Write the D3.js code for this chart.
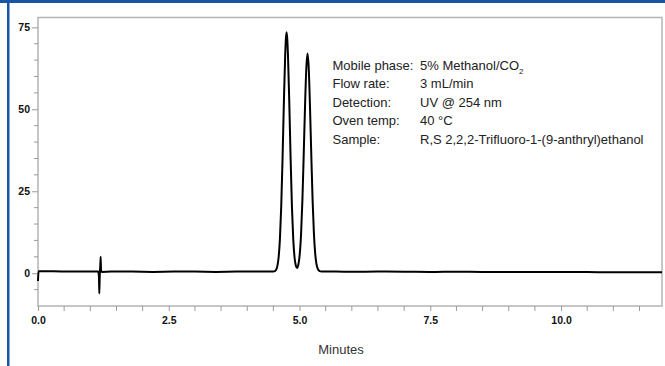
<!DOCTYPE html>
<html><head><meta charset="utf-8">
<script src="https://cdn.jsdelivr.net/npm/d3@7/dist/d3.min.js"></script>
<style>
html,body{margin:0;padding:0;background:#fff;}
svg{display:block;}
</style></head>
<body>
<script>
// ---- data ----
const traceTime = [0.0, 0.01, 0.3, 0.6, 0.9, 1.1, 1.15, 1.165, 1.172, 1.18, 1.19, 1.198, 1.205, 1.22, 1.4, 1.8, 2.2, 2.6, 3.0, 3.4, 3.8, 4.2, 4.45,
  4.5, 4.525, 4.55, 4.575, 4.6, 4.625, 4.65, 4.675, 4.7, 4.725, 4.74, 4.752, 4.765, 4.78, 4.805, 4.83, 4.855, 4.88, 4.905, 4.93, 4.955,
  4.98, 5.005, 5.03, 5.055, 5.08, 5.105, 5.13, 5.153, 5.176, 5.2, 5.225, 5.25, 5.275, 5.3, 5.325, 5.35, 5.375, 5.4, 5.45,
  5.7, 6.0, 6.5, 7.0, 7.5, 8.0, 8.5, 9.0, 9.5, 10.0, 10.5, 11.0, 11.5, 11.93];
const traceSignal = [-2.4, 0.6, 0.6, 0.5, 0.5, 0.5, 0.5, -1.0, -6.2, -1.0, 2.0, 5.0, 1.0, 0.4, 0.5, 0.5, 0.4, 0.5, 0.5, 0.4, 0.5, 0.5, 0.5,
  0.53, 0.64, 1.0, 2.1, 4.8, 10.4, 20.3, 34.7, 51.5, 66.1, 71.6, 73.5, 71.6, 66.1, 51.5, 34.7, 20.3, 10.4, 4.8, 2.3, 1.6,
  2.8, 5.9, 12.2, 22.3, 36.1, 50.8, 62.5, 67.0, 62.5, 50.8, 36.1, 22.3, 12.2, 5.9, 2.7, 1.3, 0.74, 0.56, 0.5,
  0.5, 0.45, 0.5, 0.45, 0.4, 0.45, 0.4, 0.4, 0.35, 0.4, 0.35, 0.3, 0.3, 0.3];
const xMajorTicks = [0, 2.5, 5, 7.5, 10];
const yMajorTicks = [0, 25, 50, 75];
const annotationLabels = ["Mobile phase:", "Flow rate:", "Detection:", "Oven temp:", "Sample:"];
const annotationValues = ["5% Methanol/CO", "3 mL/min", "UV @ 254 nm", "40 °C", "R,S 2,2,2-Trifluoro-1-(9-anthryl)ethanol"];
const xTitle = "Minutes";

// ---- layout ----
const W = 665, H = 366;
const plot = {left: 38, right: 662, top: 17.5, bottom: 306};
const svg = d3.select("body").append("svg").attr("width", W).attr("height", H);

const x = d3.scaleLinear().domain([0, 11.93]).range([plot.left, plot.right]);
const y = d3.scaleLinear().domain([-10, 78]).range([plot.bottom, plot.top]);

// blue border
svg.append("rect").attr("x", 0).attr("y", 0).attr("width", W).attr("height", 3).attr("fill", "#1a55a5");
svg.append("rect").attr("x", 7).attr("y", 0).attr("width", 2.5).attr("height", H).attr("fill", "#1a55a5");

// frame
svg.append("rect").attr("x", plot.left).attr("y", plot.top)
  .attr("width", plot.right - plot.left).attr("height", plot.bottom - plot.top)
  .attr("fill", "none").attr("stroke", "#b4b4b4").attr("stroke-width", 1.5);

const tickColor = "#9a9a9a";
const tickFont = "Liberation Sans, Arial, sans-serif";
// y minor ticks
const yMinor = d3.range(-5, 76, 5).filter(v => !yMajorTicks.includes(v));
svg.append("g").selectAll("line").data(yMinor).join("line")
  .attr("x1", plot.left - 4).attr("x2", plot.left).attr("y1", d => y(d)).attr("y2", d => y(d))
  .attr("stroke", tickColor).attr("stroke-width", 1);
// y major axis
const yAxis = svg.append("g").attr("transform", `translate(${plot.left},0)`)
  .call(d3.axisLeft(y).tickValues(yMajorTicks).tickSize(6).tickPadding(2).tickFormat(d3.format("d")));
yAxis.select(".domain").remove();
yAxis.selectAll(".tick line").attr("stroke", tickColor);
yAxis.selectAll(".tick text").attr("fill", "#111").style("font-family", tickFont)
  .style("font-size", "10.5px").style("font-weight", "bold");

// x minor ticks
const xMinor = d3.range(0.5, 11.9, 0.5).filter(v => !xMajorTicks.includes(v));
svg.append("g").selectAll("line").data(xMinor).join("line")
  .attr("y1", plot.bottom).attr("y2", plot.bottom + 5).attr("x1", d => x(d)).attr("x2", d => x(d))
  .attr("stroke", tickColor).attr("stroke-width", 1);
const xAxis = svg.append("g").attr("transform", `translate(0,${plot.bottom})`)
  .call(d3.axisBottom(x).tickValues(xMajorTicks).tickSize(5).tickPadding(6).tickFormat(d3.format(".1f")));
xAxis.select(".domain").remove();
xAxis.selectAll(".tick line").attr("stroke", tickColor);
xAxis.selectAll(".tick text").attr("fill", "#111").style("font-family", tickFont)
  .style("font-size", "10.5px").style("font-weight", "bold");

const textFont = "Liberation Sans, Arial, sans-serif";
svg.append("text").attr("x", 341).attr("y", 354).attr("text-anchor", "middle")
  .style("font-family", textFont).style("font-size", "13px")
  .attr("fill", "#333").text(xTitle);

// trace
const pts = traceTime.map((t, i) => [t, traceSignal[i]]);
svg.append("path").datum(pts)
  .attr("d", d3.line().x(d => x(d[0])).y(d => y(d[1])).curve(d3.curveMonotoneX))
  .attr("fill", "none").attr("stroke", "#000").attr("stroke-width", 2).attr("stroke-linejoin", "round");

// annotation
const ann = svg.append("g").style("font-family", textFont)
  .style("font-size", "13px").attr("fill", "#222");
annotationLabels.forEach((l, i) => {
  ann.append("text").attr("x", 332.5).attr("y", 69.5 + i * 18.6).text(l);
});
annotationValues.forEach((v, i) => {
  const t = ann.append("text").attr("x", 420).attr("y", 69.5 + i * 18.6).text(v);
  if (i === 0) t.append("tspan").attr("dy", 4).style("font-size", "8px").text("2");
});
</script>
</body></html>
